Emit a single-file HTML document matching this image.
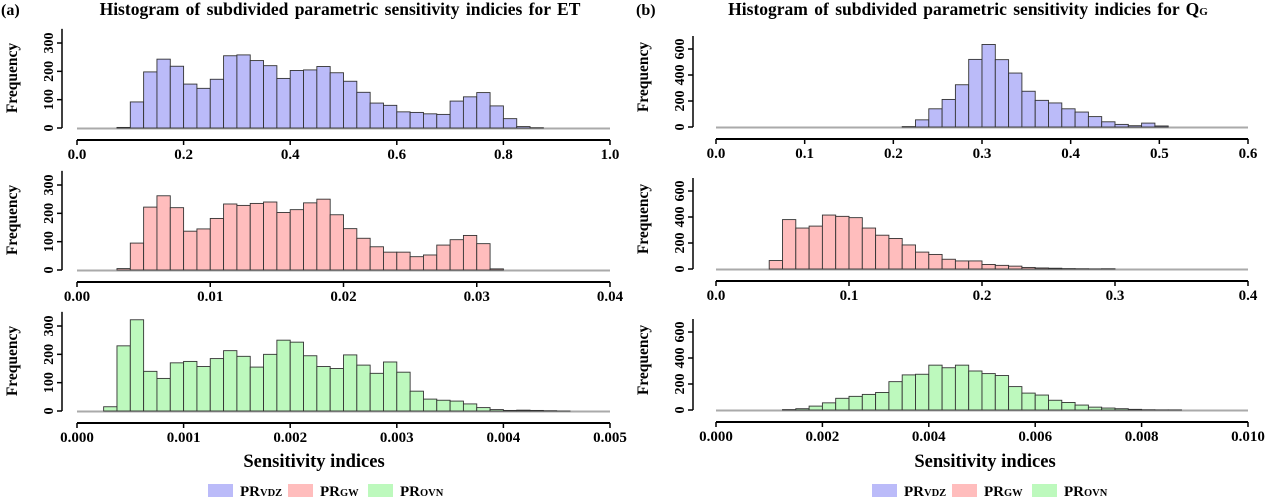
<!DOCTYPE html>
<html><head><meta charset="utf-8">
<style>
body{margin:0;background:#fff;}
svg{display:block;font-family:"Liberation Serif",serif;font-weight:bold;}
</style></head>
<body>
<svg id="chart" width="1267" height="498" xmlns="http://www.w3.org/2000/svg">
<text x="1" y="15" font-size="16">(a)</text>
<text x="340" y="15" font-size="17.5" word-spacing="2" text-anchor="middle">Histogram of subdivided parametric sensitivity indicies for ET</text>
<text x="636" y="15" font-size="16">(b)</text>
<text x="968" y="15" font-size="17.5" word-spacing="2" text-anchor="middle">Histogram of subdivided parametric sensitivity indicies for Q<tspan font-size="11">G</tspan></text>
<text x="314" y="467" font-size="18.5" text-anchor="middle">Sensitivity indices</text>
<text x="985" y="467" font-size="18.5" text-anchor="middle">Sensitivity indices</text>
</svg>
<script>
// ET panels (left)
const etVdzStart = 0.075, etVdzWidth = 0.025;
const etVdzCounts = [2,92,198,243,218,155,140,172,255,258,238,220,175,203,205,217,195,165,126,88,80,57,55,50,48,95,110,125,78,33,5,1];
const etGwStart = 0.003, etGwWidth = 0.001;
const etGwCounts = [5,95,222,262,220,137,145,182,233,228,235,240,203,213,237,250,195,146,112,82,63,63,47,53,88,107,122,93,4];
const etOvnStart = 0.00025, etOvnWidth = 0.000125;
const etOvnCounts = [15,230,322,140,115,170,175,157,185,213,193,155,200,250,243,195,157,150,198,162,133,173,137,70,42,38,35,25,12,5,2,3,2,1,0];
// QG panels (right)
const qgVdzStart = 0.21, qgVdzWidth = 0.015;
const qgVdzCounts = [3,55,140,212,325,520,635,518,415,275,205,185,140,115,80,40,20,10,30,8];
const qgGwStart = 0.04, qgGwWidth = 0.01;
const qgGwCounts = [65,380,315,330,415,405,395,315,260,235,185,130,112,75,62,62,35,28,22,12,8,6,3,2,1,2];
const qgOvnStart = 0.00125, qgOvnWidth = 0.00025;
const qgOvnCounts = [3,10,30,55,90,105,120,135,218,270,275,345,325,345,300,280,265,180,130,115,75,58,38,22,15,10,5,2,1,1];
// axis ticks
const etVdzXTicks = ["0.0","0.2","0.4","0.6","0.8","1.0"];
const etGwXTicks = ["0.00","0.01","0.02","0.03","0.04"];
const etOvnXTicks = ["0.000","0.001","0.002","0.003","0.004","0.005"];
const qgVdzXTicks = ["0.0","0.1","0.2","0.3","0.4","0.5","0.6"];
const qgGwXTicks = ["0.0","0.1","0.2","0.3","0.4"];
const qgOvnXTicks = ["0.000","0.002","0.004","0.006","0.008","0.010"];
const leftYTicks = [0,100,200,300];
const rightYTicks = [0,200,400,600];

const NS = "http://www.w3.org/2000/svg";
const svg = document.getElementById('chart');
function mk(tag, attrs, parent){
  const e = document.createElementNS(NS, tag);
  for (const k in attrs) e.setAttribute(k, attrs[k]);
  (parent||svg).appendChild(e); return e;
}
const COLORS = {vdz:"#bbbbf9", gw:"#ffbdbd", ovn:"#bdf9bd"};

function panel(opt){
  const g = mk('g', {});
  
  
  const xs = v => opt.x0 + (v - opt.xmin) / (opt.xmax - opt.xmin) * (opt.x1 - opt.x0);
  const ys = v => opt.base - v * opt.pxPerUnit;
  const bl = mk('line', {x1:opt.x0, x2:opt.x1, y1:opt.base+0.5, y2:opt.base+0.5, stroke:"#aaa", "stroke-width":2}, g);
  
  
  opt.counts.forEach((c, i) => {
    const a = opt.start + i * opt.width, b = a + opt.width;
    const r = mk('rect', {x:xs(a), y:ys(c), width:xs(b)-xs(a), height:Math.max(c*opt.pxPerUnit,0.01),
      fill:opt.color, stroke:"#333", "stroke-width":0.9}, g);
    
    
  });
  const ay = opt.base + 12;
  const xa = mk('line', {x1:opt.x0, x2:opt.x1, y1:ay, y2:ay, stroke:"#000", "stroke-width":2}, g);
  
  
  const n = opt.xticks.length;
  opt.xticks.forEach((t, i) => {
    const v = opt.xmin + (opt.xmax - opt.xmin) * i / (n - 1);
    const x = xs(v);
    mk('line', {x1:x, x2:x, y1:ay, y2:ay+5, stroke:"#000", "stroke-width":1.5}, g);
    const tx = mk('text', {x:x, y:ay+19, "font-size":15, "text-anchor":"middle"}, g);
    tx.textContent = t;
    
    
  });
  const yx = opt.yaxisX;
  const ya = mk('line', {x1:yx, x2:yx, y1:opt.base, y2:ys(opt.ymax), stroke:"#000", "stroke-width":1.5}, g);
  
  
  opt.yticks.forEach(t => {
    const y = ys(t);
    mk('line', {x1:yx-5, x2:yx, y1:y, y2:y, stroke:"#000", "stroke-width":1.5}, g);
    const tx = mk('text', {x:0, y:0, "font-size":14, "text-anchor":"middle",
      transform:`translate(${yx-9},${y}) rotate(-90)`}, g);
    tx.textContent = t;
    
    
  });
  const yt = mk('text', {x:0, y:0, "font-size":15.5, "text-anchor":"middle",
    transform:`translate(${yx-45},${opt.base-50}) rotate(-90)`}, g);
  yt.textContent = "Frequency";
  
  
}
const L = {x0:77, x1:610, yaxisX:62, pxPerUnit:0.2833, ymax:350, yticks:leftYTicks};
const R = {x0:716, x1:1248, yaxisX:693, pxPerUnit:0.13, ymax:700, yticks:rightYTicks};
panel(Object.assign({}, L, {name:"panel-et-vdz", base:128, xmin:0, xmax:1, xticks:etVdzXTicks, start:etVdzStart, width:etVdzWidth, counts:etVdzCounts, color:COLORS.vdz}));
panel(Object.assign({}, L, {name:"panel-et-gw", base:270, xmin:0, xmax:0.04, xticks:etGwXTicks, start:etGwStart, width:etGwWidth, counts:etGwCounts, color:COLORS.gw}));
panel(Object.assign({}, L, {name:"panel-et-ovn", base:411, xmin:0, xmax:0.005, xticks:etOvnXTicks, start:etOvnStart, width:etOvnWidth, counts:etOvnCounts, color:COLORS.ovn}));
panel(Object.assign({}, R, {name:"panel-qg-vdz", base:127, xmin:0, xmax:0.6, xticks:qgVdzXTicks, start:qgVdzStart, width:qgVdzWidth, counts:qgVdzCounts, color:COLORS.vdz}));
panel(Object.assign({}, R, {name:"panel-qg-gw", base:269, xmin:0, xmax:0.4, xticks:qgGwXTicks, start:qgGwStart, width:qgGwWidth, counts:qgGwCounts, color:COLORS.gw}));
panel(Object.assign({}, R, {name:"panel-qg-ovn", base:410, xmin:0, xmax:0.01, xticks:qgOvnXTicks, start:qgOvnStart, width:qgOvnWidth, counts:qgOvnCounts, color:COLORS.ovn}));

function legend(x0, side){
  const items = [["vdz","VDZ",0],["gw","GW",80],["ovn","OVN",160]];
  items.forEach(([k, sub, dx]) => {
    const g = mk('g', {});
    
    
    mk('rect', {x:x0+dx, y:484, width:25, height:13, fill:COLORS[k]}, g);
    const t = mk('text', {x:x0+dx+32, y:496, "font-size":15}, g);
    t.innerHTML = 'PR<tspan font-size="10.5">' + sub + '</tspan>';
  });
}
legend(208, 'left');
legend(872, 'right');
</script>
</body></html>
